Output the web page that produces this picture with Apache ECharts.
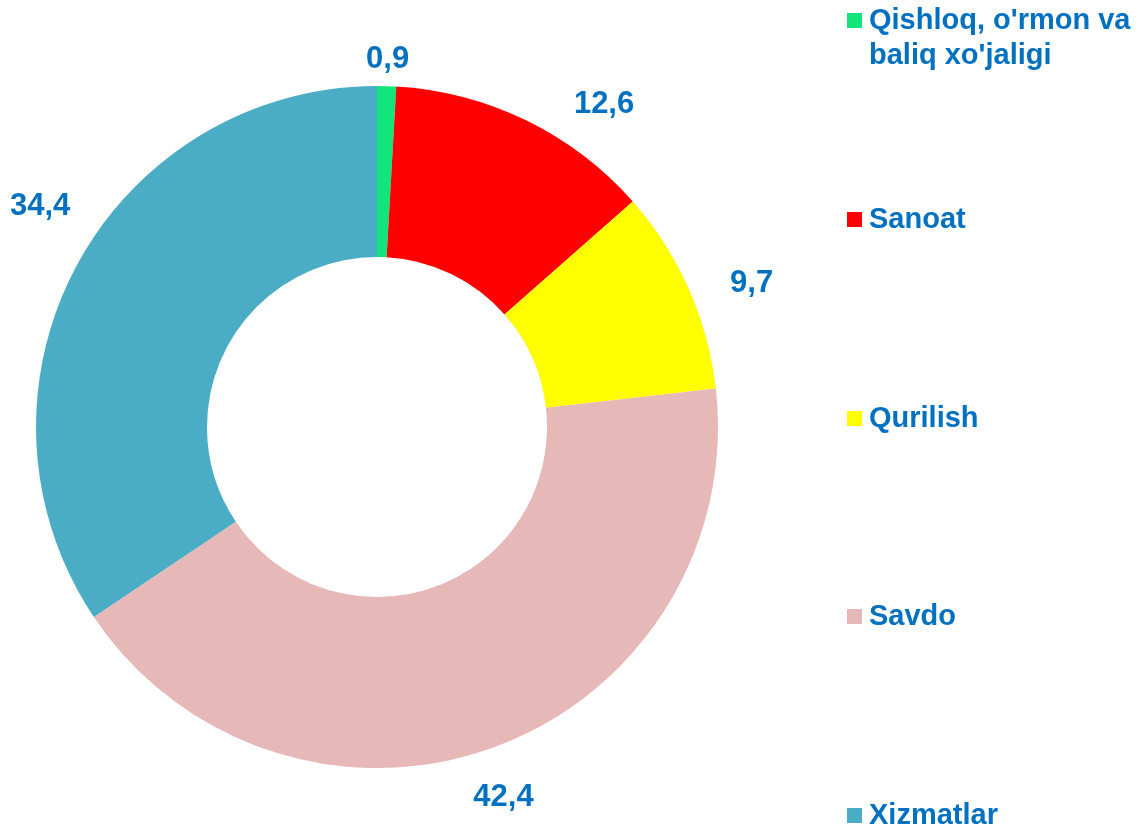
<!DOCTYPE html>
<html>
  <head>
    <meta charset="utf-8">
    <title>Donut</title>
    <script src="https://cdn.jsdelivr.net/npm/echarts@6/dist/echarts.min.js" charset="utf-8"></script>
    <style media="screen">
      html, body{
        margin: 0;
        padding: 0;
        background: #fff;
      }
    </style>
  </head>
  <body>
    <div id="main" style="width: 1141px;height:829px;"></div>
    <script type="text/javascript">
      // data
      var names = ["Qishloq, o'rmon va baliq xo'jaligi", 'Sanoat', 'Qurilish', 'Savdo', 'Xizmatlar'];
      var values = [0.9, 12.6, 9.7, 42.4, 34.4];
      var colors = ['#12E67A', '#FF0000', '#FFFF00', '#E6B8B7', '#4BACC6'];

      var blue = '#0070C0';
      var font = 'Liberation Sans, Arial, sans-serif';

      // label nudges (excel labels were moved by hand)
      var labelNudge = [[-4, -27], [73, -16], [58, -5], [4, 50], [-31, -60]];
      // legend tops
      var legendTop = [-32, 202, 401, 599, 798];

      var pieData = [];
      for (var i = 0; i < names.length; i++) {
        pieData.push({name: names[i], value: values[i], itemStyle: {color: colors[i]}});
      }

      var legends = [];
      for (var j = 0; j < names.length; j++) {
        legends.push({
          orient: 'vertical',
          left: 847,
          top: legendTop[j],
          padding: 0,
          icon: 'rect',
          itemWidth: 15,
          itemHeight: 15,
          selectedMode: false,
          data: [names[j]],
          formatter: function (n) {
            if (n === names[0]) {
              return "\nQishloq, o'rmon va\nbaliq xo'jaligi";
            }
            return n;
          },
          textStyle: {
            color: blue,
            fontSize: 29,
            fontWeight: 'bold',
            fontFamily: font,
            lineHeight: 35,
            padding: [0, 0, 0, 2]
          }
        });
      }

      var myChart = echarts.init(document.getElementById('main'));
      var option = {
        animation: false,
        legend: legends,
        series: [{
          type: 'pie',
          center: [377, 427],
          radius: [170, 341],
          startAngle: 90,
          clockwise: true,
          avoidLabelOverlap: false,
          label: {
            show: true,
            position: 'outside',
            color: blue,
            fontSize: 31,
            fontWeight: 'bold',
            fontFamily: font,
            formatter: function (p) {
              return String(p.value).replace('.', ',');
            }
          },
          labelLine: {show: false, length: 0, length2: 0},
          labelLayout: function (p) {
            var d = labelNudge[p.dataIndex];
            return {align: 'center', verticalAlign: 'middle', dx: d[0], dy: d[1]};
          },
          emphasis: {disabled: true},
          data: pieData
        }]
      };
      myChart.setOption(option);
    </script>
  </body>
</html>
